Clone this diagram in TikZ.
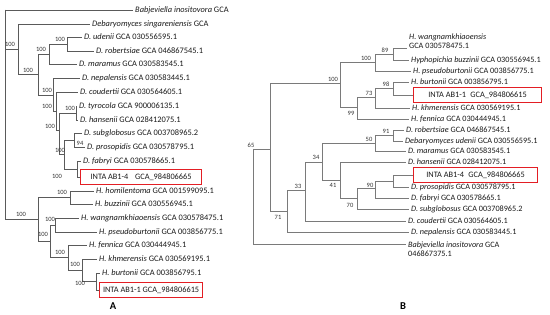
\documentclass[tikz,border=0pt]{standalone}
\usepackage{fontspec}
\setmainfont{Carlito}
\definecolor{brA}{HTML}{5A5A5A}
\definecolor{brB}{HTML}{7A7A7A}
\definecolor{bsgray}{HTML}{333333}
\definecolor{txt}{HTML}{1A1A1A}
\definecolor{boxred}{HTML}{E31E24}
\begin{document}
\begin{tikzpicture}[x=1pt,y=-1pt,
  brA/.style={draw=brA, line width=0.6pt},
  brB/.style={draw=brB, line width=0.6pt},
  tipA/.style={anchor=west, inner xsep=2pt, inner ysep=0pt, text=txt, font=\fontsize{8.4}{9.5}\selectfont},
  tipB/.style={anchor=west, inner xsep=2pt, inner ysep=0pt, text=txt, font=\fontsize{8.2}{9.5}\selectfont},
  redboxA/.style={draw=boxred, line width=1.2pt, anchor=west, minimum height=15pt, inner sep=0pt, text=txt, font=\fontsize{8.3}{9}\selectfont},
  redboxB/.style={draw=boxred, line width=1.2pt, anchor=west, minimum height=14.5pt, inner sep=0pt, text=txt, font=\fontsize{8.3}{9}\selectfont},
  bs/.style={inner sep=0pt, text=bsgray, font=\fontsize{6.5}{7}\selectfont},
  panel/.style={inner sep=0pt, font=\fontsize{10.5}{12}\selectfont\bfseries}
]
\useasboundingbox (0,0) rectangle (550,315);
\fill[white] (0,0) rectangle (550,315);

% ================= Panel A =================
\node[tipA] (a1) at (133,10) {\textit{Babjeviella inositovora} GCA};
\node[tipA] (a2) at (90,24) {\textit{Debaryomyces singareniensis} GCA};
\node[tipA] (a3) at (82,37) {\textit{D. udenii} GCA 030556595.1};
\node[tipA] (a4) at (94,51) {\textit{D. robertsiae} GCA 046867545.1};
\node[tipA] (a5) at (77,64) {\textit{D. maramus} GCA 030583545.1};
\node[tipA] (a6) at (80,78) {\textit{D. nepalensis} GCA 030583445.1};
\node[tipA] (a7) at (78,92) {\textit{D. coudertii} GCA 030564605.1};
\node[tipA] (a8) at (77,106) {\textit{D. tyrocola} GCA 900006135.1};
\node[tipA] (a9) at (78,120) {\textit{D. hansenii} GCA 028412075.1};
\node[tipA] (a10) at (82,133) {\textit{D. subglobosus} GCA 003708965.2};
\node[tipA] (a11) at (85,147) {\textit{D. prosopidis} GCA 030578795.1};
\node[tipA] (a12) at (81,161) {\textit{D. fabryi} GCA 030578665.1};
\node[redboxA, minimum width=121pt] (a13) at (80,177) {INTA AB1-4\hspace{0.8em}GCA\_984806665};
\node[tipA] (a14) at (94,191) {\textit{H. homilentoma} GCA 001599095.1};
\node[tipA] (a15) at (93,204) {\textit{H. buzzinii} GCA 030556945.1};
\node[tipA] (a16) at (79,218) {\textit{H. wangnamkhiaoensis} GCA 030578475.1};
\node[tipA] (a17) at (97,232) {\textit{H. pseudoburtonii} GCA 003856775.1};
\node[tipA] (a18) at (87,245) {\textit{H. fennica} GCA 030444945.1};
\node[tipA] (a19) at (97,259) {\textit{H. khmerensis} GCA 030569195.1};
\node[tipA] (a20) at (100,273) {\textit{H. burtonii} GCA 003856795.1};
\node[redboxA, minimum width=103pt] (a21) at (99,290) {INTA AB1-1 GCA\_984806615};

% internal nodes (x of node, y of stem)
\coordinate (RA) at (5,10);
\coordinate (D1) at (18,49);
\coordinate (D2) at (38,74);
\coordinate (D3) at (49,54);
\coordinate (D3a) at (67,44);
\coordinate (D4) at (53,95);
\coordinate (D5) at (56,111);
\coordinate (D6) at (59,130);
\coordinate (D7) at (76,113);
\coordinate (D8) at (64,154);
\coordinate (D9) at (74,140);
\coordinate (D10) at (77,169);
\coordinate (HC) at (38,219);
\coordinate (Ha) at (70,197);
\coordinate (Hb) at (50,241);
\coordinate (Hc) at (55,225);
\coordinate (Hd) at (68,257);
\coordinate (He) at (82,270);
\coordinate (Hf) at (96,281);

\draw[brA] (RA) |- (a1.west);
\draw[brA] (RA) |- (D1);
\draw[brA] (RA) |- (HC);
\draw[brA] (D1) |- (a2.west);
\draw[brA] (D1) |- (D2);
\draw[brA] (D2) |- (D3);
\draw[brA] (D2) |- (D4);
\draw[brA] (D3) |- (D3a);
\draw[brA] (D3) |- (a5.west);
\draw[brA] (D3a) |- (a3.west);
\draw[brA] (D3a) |- (a4.west);
\draw[brA] (D4) |- (a6.west);
\draw[brA] (D4) |- (D5);
\draw[brA] (D5) |- (a7.west);
\draw[brA] (D5) |- (D6);
\draw[brA] (D6) |- (D7);
\draw[brA] (D6) |- (D8);
\draw[brA] (D7) |- (a8.west);
\draw[brA] (D7) |- (a9.west);
\draw[brA] (D8) |- (D9);
\draw[brA] (D8) |- (D10);
\draw[brA] (D9) |- (a10.west);
\draw[brA] (D9) |- (a11.west);
\draw[brA] (D10) |- (a12.west);
\draw[brA] (D10) |- (a13.west);
\draw[brA] (HC) |- (Ha);
\draw[brA] (HC) |- (Hb);
\draw[brA] (Ha) |- (a14.west);
\draw[brA] (Ha) |- (a15.west);
\draw[brA] (Hb) |- (Hc);
\draw[brA] (Hb) |- (Hd);
\draw[brA] (Hc) |- (a16.west);
\draw[brA] (Hc) |- (a17.west);
\draw[brA] (Hd) |- (a18.west);
\draw[brA] (Hd) |- (He);
\draw[brA] (He) |- (a19.west);
\draw[brA] (He) |- (Hf);
\draw[brA] (Hf) |- (a20.west);
\draw[brA] (Hf) |- (a21.west);

% bootstrap labels A
\node[bs] (lD1) at (10,44) {100};
\node[bs] (lD2) at (28,70) {100};
\node[bs] (lD3) at (41,49) {100};
\node[bs] (lD3a) at (60,39) {100};
\node[bs] (lD4) at (47,90) {100};
\node[bs] (lD5) at (47,106) {100};
\node[bs] (lD6) at (50,126) {100};
\node[bs] (lD7) at (70,108) {100};
\node[bs] (lD8) at (60,150) {100};
\node[bs] (lD9) at (80,143) {94};
\node[bs] (lD10) at (57,176) {100};
\node[bs] (lHC) at (21,214) {100};
\node[bs] (lHa) at (62,192) {100};
\node[bs] (lHb) at (43,234) {100};
\node[bs] (lHc) at (50,219) {100};
\node[bs] (lHd) at (60,252) {100};
\node[bs] (lHe) at (75,264) {100};
\node[bs] (lHf) at (80,283) {100};

\node[panel] (pA) at (113,306) {A};

% ================= Panel B =================
\coordinate (b1) at (407,48);
\node[tipB, anchor=south west, align=left] (b1t) at (407,49) {\textit{H. wangnamkhiaoensis}\\GCA 030578475.1};
\node[tipB] (b2) at (409,60) {\textit{Hyphopichia buzzinii} GCA 030556945.1};
\node[tipB] (b3) at (411,71) {\textit{H. pseudoburtonii} GCA 003856775.1};
\node[tipB] (b4) at (409,82) {\textit{H. burtonii} GCA 003856795.1};
\node[redboxB, minimum width=128pt] (b5) at (413,95) {INTA AB1-1\enspace GCA\_984806615};
\node[tipB] (b6) at (410,108) {\textit{H. khmerensis} GCA 030569195.1};
\node[tipB] (b7) at (409,119) {\textit{H. fennica} GCA 030444945.1};
\node[tipB] (b8) at (404,130) {\textit{D. robertsiae} GCA 046867545.1};
\node[tipB] (b9) at (403,141) {\textit{Debaryomyces udenii} GCA 030556595.1};
\node[tipB] (b10) at (406,151) {\textit{D. maramus} GCA 030583545.1};
\node[tipB] (b11) at (406,162) {\textit{D. hansenii} GCA 028412075.1};
\node[redboxB, minimum width=124pt] (b12) at (413,175) {INTA AB1-4\enspace GCA\_984806665};
\node[tipB] (b13) at (409,187) {\textit{D. prosopidis} GCA 030578795.1};
\node[tipB] (b14) at (409,198) {\textit{D. fabryi} GCA 030578665.1};
\node[tipB] (b15) at (409,209) {\textit{D. subglobosus} GCA 003708965.2};
\node[tipB] (b16) at (406,221) {\textit{D. coudertii} GCA 030564605.1};
\node[tipB] (b17) at (409,232) {\textit{D. nepalensis} GCA 030583445.1};
\coordinate (b18) at (406,244);
\node[tipB, anchor=north west, align=left] (b18t) at (406,241.5) {\textit{Babjeviella inositovora} GCA\\046867375.1};

\coordinate (RB) at (253,149);
\coordinate (N65) at (270,149);
\coordinate (H0) at (340,83);
\coordinate (H1) at (375,62);
\coordinate (N89) at (393,54);
\coordinate (H2) at (357,107);
\coordinate (N73) at (375,97);
\coordinate (N98) at (393,88);
\coordinate (N71) at (287,211);
\coordinate (N33) at (305,190);
\coordinate (N34) at (322,162);
\coordinate (N50) at (375,143);
\coordinate (N91) at (393,135);
\coordinate (N41) at (340,180);
\coordinate (N70) at (357,198);
\coordinate (N90) at (375,188);
\coordinate (Nx) at (393,181);

\draw[brB] (RB) |- (N65);
\draw[brB] (RB) |- (b18);
\draw[brB] (N65) |- (H0);
\draw[brB] (N65) |- (N71);
\draw[brB] (H0) |- (H1);
\draw[brB] (H0) |- (H2);
\draw[brB] (H1) |- (N89);
\draw[brB] (H1) |- (b3.west);
\draw[brB] (N89) |- (b1);
\draw[brB] (N89) |- (b2.west);
\draw[brB] (H2) |- (N73);
\draw[brB] (H2) |- (b7.west);
\draw[brB] (N73) |- (N98);
\draw[brB] (N73) |- (b6.west);
\draw[brB] (N98) |- (b4.west);
\draw[brB] (N98) |- (b5.west);
\draw[brB] (N71) |- (N33);
\draw[brB] (N71) |- (b17.west);
\draw[brB] (N33) |- (N34);
\draw[brB] (N33) |- (b16.west);
\draw[brB] (N34) |- (N50);
\draw[brB] (N34) |- (N41);
\draw[brB] (N50) |- (N91);
\draw[brB] (N50) |- (b10.west);
\draw[brB] (N91) |- (b8.west);
\draw[brB] (N91) |- (b9.west);
\draw[brB] (N41) |- (b11.west);
\draw[brB] (N41) |- (N70);
\draw[brB] (N70) |- (N90);
\draw[brB] (N70) |- (b15.west);
\draw[brB] (N90) |- (Nx);
\draw[brB] (N90) |- (b14.west);
\draw[brB] (Nx) |- (b12.west);
\draw[brB] (Nx) |- (b13.west);

\node[bs] (l65) at (251,145) {65};
\node[bs] (lH0) at (333,79) {100};
\node[bs] (lH1) at (366,58) {100};
\node[bs] (l89) at (385,50) {89};
\node[bs] (l98) at (386,84) {98};
\node[bs] (l73) at (369,93) {73};
\node[bs] (l99) at (351,113) {99};
\node[bs] (l91) at (386,131) {91};
\node[bs] (l50) at (369,139) {50};
\node[bs] (l34) at (316,157) {34};
\node[bs] (l41) at (333,185) {41};
\node[bs] (l90) at (370,185) {90};
\node[bs] (l70) at (350,205) {70};
\node[bs] (l33) at (298,186) {33};
\node[bs] (l71) at (278,217) {71};

\node[panel] (pB) at (403,306) {B};
\end{tikzpicture}
\end{document}
